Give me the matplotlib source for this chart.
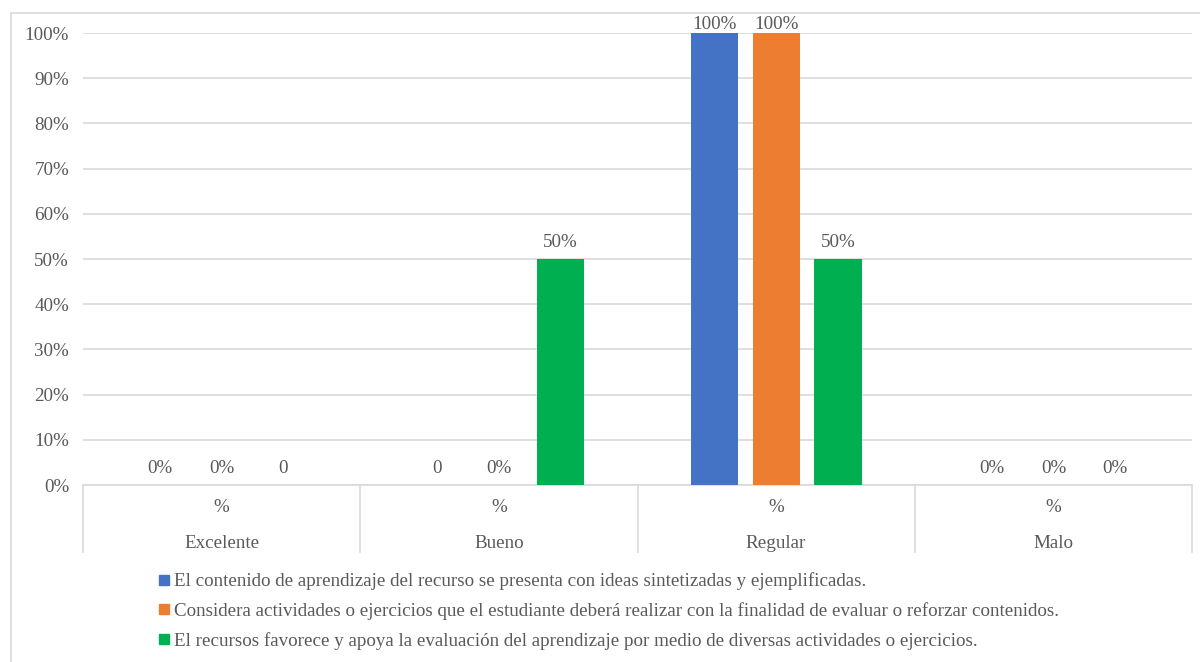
import numpy as np
import matplotlib
matplotlib.use("Agg")
import matplotlib.pyplot as plt
from matplotlib.lines import Line2D
from matplotlib.patches import Rectangle
import matplotlib.transforms as mtransforms

plt.rcParams['font.family'] = ['Liberation Serif', 'DejaVu Serif']

categories = ['Excelente', 'Bueno', 'Regular', 'Malo']
sub_label = '%'
series_names = [
    'El contenido de aprendizaje del recurso se presenta con ideas sintetizadas y ejemplificadas.',
    'Considera actividades o ejercicios que el estudiante deberá realizar con la finalidad de evaluar o reforzar contenidos.',
    'El recursos favorece y apoya la evaluación del aprendizaje por medio de diversas actividades o ejercicios.',
]
contenido = [0.0, 0.0, 1.0, 0.0]
actividades = [0.0, 0.0, 1.0, 0.0]
evaluacion = [0.0, 0.5, 0.5, 0.0]
labels_contenido = ['0%', '0', '100%', '0%']
labels_actividades = ['0%', '0%', '100%', '0%']
labels_evaluacion = ['0', '50%', '50%', '0%']
colors = ['#4472C4', '#ED7D31', '#00B050']

TXT = '#595959'
GRID = '#D9D9D9'
FS = 13.7


def main():
    fig = plt.figure(figsize=(12, 6.62), dpi=100)
    ax = fig.add_axes([83 / 1200, 1 - 485 / 662, (1192 - 83) / 1200, 452 / 662])

    # outer chart border
    fig.patches.append(Rectangle((11 / 1200, -0.05), 1.2, 1 - 13 / 662 + 0.05,
                                 transform=fig.transFigure, fill=False,
                                 edgecolor=GRID, linewidth=1.2))

    x = np.arange(len(categories))
    width = 0.17
    step = 0.223
    data = [contenido, actividades, evaluacion]
    labels = [labels_contenido, labels_actividades, labels_evaluacion]
    for i, (vals, labs) in enumerate(zip(data, labels)):
        xs = x + (i - 1) * step
        ax.bar(xs, vals, width, color=colors[i], zorder=3)
        for xi, v, lab in zip(xs, vals, labs):
            off = 0 if v >= 1 else 6
            ax.annotate(lab, (xi, v), xytext=(0, off), textcoords='offset points',
                        ha='center', va='bottom', fontsize=FS, color=TXT,
                        annotation_clip=False)

    ax.set_xlim(-0.5, len(categories) - 0.5)
    ax.set_ylim(0, 1)
    ax.set_yticks(np.arange(0, 1.01, 0.1))
    ax.set_yticklabels([f'{int(round(t * 100))}%' for t in np.arange(0, 1.01, 0.1)])
    ax.tick_params(axis='y', length=0, pad=10, labelsize=FS, labelcolor=TXT)
    ax.yaxis.grid(True, color=GRID, linewidth=1.2, zorder=0)
    ax.set_xticks([])
    for s in ['top', 'right', 'left']:
        ax.spines[s].set_visible(False)
    ax.spines['bottom'].set_color(GRID)
    ax.spines['bottom'].set_linewidth(1.2)

    # two-level category axis
    trans = mtransforms.blended_transform_factory(ax.transData, ax.transAxes)
    for k in range(len(categories) + 1):
        ax.plot([k - 0.5, k - 0.5], [0, -67 / 452], transform=trans,
                color=GRID, linewidth=1.2, clip_on=False)
    for k, cat in enumerate(categories):
        ax.text(k, -23 / 452, sub_label, transform=trans, ha='center', va='center',
                fontsize=FS, color=TXT)
        ax.text(k, -58 / 452, cat, transform=trans, ha='center', va='center',
                fontsize=FS, color=TXT)

    handles = [Line2D([], [], marker='s', linestyle='none', markersize=7,
                      markerfacecolor=c, markeredgecolor=c) for c in colors]
    fig.legend(handles, series_names, loc='upper left',
               bbox_to_anchor=(149 / 1200, 1 - 563 / 662), frameon=False,
               fontsize=FS, labelcolor=TXT, handlelength=0.6,
               handletextpad=0.2, labelspacing=0.62, borderpad=0)

    fig.savefig('out.png', dpi=100)


if __name__ == "__main__":
    main()
